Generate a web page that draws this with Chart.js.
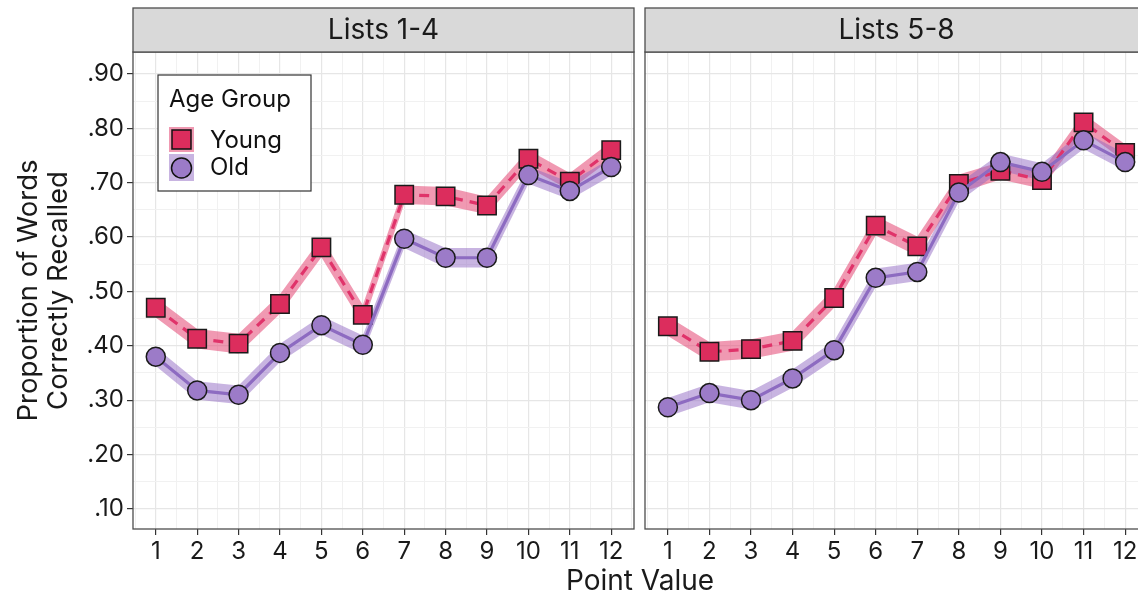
<!DOCTYPE html>
<html>
<head>
<meta charset="utf-8">
<script src="https://cdn.jsdelivr.net/npm/chart.js@4.4.1/dist/chart.umd.min.js"></script>
<style>
  html, body { margin: 0; padding: 0; background: #fff; overflow: hidden; }
  #wrap { position: relative; width: 1138px; height: 595px; overflow: hidden; background: #fff; }
  #left { position: absolute; left: 0; top: 0; width: 640px; height: 595px; }
  #right { position: absolute; left: 640px; top: 0; width: 508px; height: 595px; }
  #xtitle {
    position: absolute; left: 490px; width: 300px; top: 564px; text-align: center;
    font-family: Inter, "Liberation Sans", sans-serif; font-size: 28px; color: #1a1a1a; line-height: 32px;
  }
</style>
</head>
<body>
<div id="wrap">
  <div id="left"><canvas id="c1" width="640" height="595"></canvas></div>
  <div id="right"><canvas id="c2" width="508" height="595"></canvas></div>
  <div id="xtitle">Point Value</div>
</div>
<script>
// Point values on the x axis
const pointValues = [1, 2, 3, 4, 5, 6, 7, 8, 9, 10, 11, 12];

// Mean proportion recalled, Lists 1-4
const young14 = [0.470, 0.413, 0.404, 0.477, 0.581, 0.457, 0.678, 0.675, 0.658, 0.744, 0.702, 0.760];
const old14   = [0.380, 0.318, 0.310, 0.387, 0.438, 0.402, 0.597, 0.562, 0.562, 0.714, 0.685, 0.729];
// Ribbon half-widths, Lists 1-4
const youngBand14 = [0.018, 0.018, 0.018, 0.018, 0.018, 0.018, 0.017, 0.017, 0.016, 0.016, 0.016, 0.016];
const oldBand14   = [0.017, 0.017, 0.017, 0.017, 0.017, 0.017, 0.017, 0.018, 0.018, 0.016, 0.016, 0.016];

// Mean proportion recalled, Lists 5-8
const young58 = [0.436, 0.389, 0.394, 0.409, 0.488, 0.621, 0.583, 0.698, 0.722, 0.705, 0.811, 0.755];
const old58   = [0.287, 0.313, 0.300, 0.340, 0.392, 0.525, 0.536, 0.682, 0.738, 0.720, 0.778, 0.738];
// Ribbon half-widths, Lists 5-8
const youngBand58 = [0.018, 0.018, 0.018, 0.018, 0.018, 0.018, 0.018, 0.017, 0.016, 0.016, 0.016, 0.016];
const oldBand58   = [0.017, 0.017, 0.017, 0.017, 0.017, 0.017, 0.017, 0.017, 0.016, 0.016, 0.016, 0.016];

const panelTitles = ['Lists 1-4', 'Lists 5-8'];
const groupNames = ['Young', 'Old'];
const yTickValues = [0.10, 0.20, 0.30, 0.40, 0.50, 0.60, 0.70, 0.80, 0.90];

const FONT = 'Inter, "Liberation Sans", sans-serif';
const YOUNG = '#dc2d5d';
const YOUNG_LINE = '#e0336a';
const YOUNG_BAND = 'rgba(228, 70, 115, 0.55)';
const OLD = '#9c7bc8';
const OLD_LINE = '#8d6bc1';
const OLD_BAND = 'rgba(145, 105, 195, 0.50)';

function pts(vals) { return pointValues.map((x, i) => ({ x: x, y: vals[i] })); }
function shifted(vals, half, sign) { return pointValues.map((x, i) => ({ x: x, y: vals[i] + sign * half[i] })); }

function isMajorX(v) { return Math.abs(v - Math.round(v)) < 1e-6; }
function isMajorY(v) { return Math.abs(v * 10 - Math.round(v * 10)) < 1e-6; }

// Panel border + facet strip
const panelFrame = {
  id: 'panelFrame',
  afterDraw(chart, args, opts) {
    const { ctx, chartArea: a } = chart;
    ctx.save();
    ctx.strokeStyle = '#4d4d4d';
    ctx.lineWidth = 1.3;
    ctx.strokeRect(a.left, a.top, a.right - a.left, a.bottom - a.top);
    // strip
    ctx.fillStyle = '#d9d9d9';
    ctx.fillRect(a.left, 8, a.right - a.left, a.top - 8);
    ctx.strokeRect(a.left, 8, a.right - a.left, a.top - 8);
    ctx.fillStyle = '#1a1a1a';
    ctx.font = '28px ' + FONT;
    ctx.textAlign = 'center';
    ctx.textBaseline = 'middle';
    ctx.fillText(opts.title, (a.left + a.right) / 2, (8 + a.top) / 2 + 1);
    ctx.restore();
  }
};

// Legend box inside the first panel
const ageLegend = {
  id: 'ageLegend',
  afterDraw(chart, args, opts) {
    if (!opts.show) return;
    const ctx = chart.ctx;
    ctx.save();
    ctx.fillStyle = '#fff';
    ctx.fillRect(158, 75, 153, 116);
    ctx.strokeStyle = '#333';
    ctx.lineWidth = 1.2;
    ctx.strokeRect(158, 75, 153, 116);
    ctx.fillStyle = '#111';
    ctx.font = '24px ' + FONT;
    ctx.textAlign = 'left';
    ctx.textBaseline = 'middle';
    ctx.fillText('Age Group', 169, 100);
    // Young key
    ctx.fillStyle = YOUNG_BAND;
    ctx.fillRect(169, 127, 25, 25);
    ctx.fillStyle = YOUNG;
    ctx.fillRect(172, 130, 19, 19);
    ctx.strokeStyle = '#111';
    ctx.lineWidth = 1.5;
    ctx.strokeRect(172, 130, 19, 19);
    // Old key
    ctx.fillStyle = OLD_BAND;
    ctx.fillRect(169, 154, 25, 27);
    ctx.fillStyle = OLD;
    ctx.beginPath();
    ctx.arc(181.5, 168, 10, 0, Math.PI * 2);
    ctx.fill();
    ctx.stroke();
    ctx.fillStyle = '#111';
    ctx.fillText(groupNames[0], 210, 141);
    ctx.fillText(groupNames[1], 210, 168);
    ctx.restore();
  }
};

function makeChart(canvasId, panelIdx, young, old, youngBand, oldBand) {
  const isLeft = panelIdx === 0;
  return new Chart(document.getElementById(canvasId), {
    type: 'line',
    data: {
      datasets: [
        { data: shifted(young, youngBand, -1), borderWidth: 0, pointRadius: 0, fill: false, order: 6 },
        { data: shifted(young, youngBand, 1), borderWidth: 0, pointRadius: 0, fill: '-1', backgroundColor: YOUNG_BAND, order: 5 },
        { data: shifted(old, oldBand, -1), borderWidth: 0, pointRadius: 0, fill: false, order: 4 },
        { data: shifted(old, oldBand, 1), borderWidth: 0, pointRadius: 0, fill: '-1', backgroundColor: OLD_BAND, order: 3 },
        {
          label: groupNames[0], data: pts(young), order: 2,
          borderColor: YOUNG_LINE, borderWidth: 3.2, borderDash: [10, 7], fill: false,
          pointStyle: 'rect', pointRadius: 13, pointBackgroundColor: YOUNG,
          pointBorderColor: '#1a1a1a', pointBorderWidth: 1.5
        },
        {
          label: groupNames[1], data: pts(old), order: 1,
          borderColor: OLD_LINE, borderWidth: 3.2, fill: false,
          pointStyle: 'circle', pointRadius: 9.5, pointBackgroundColor: OLD,
          pointBorderColor: '#1a1a1a', pointBorderWidth: 1.5
        }
      ]
    },
    options: {
      responsive: false,
      animation: false,
      events: [],
      layout: { autoPadding: false, padding: { top: 52, right: isLeft ? 6 : 0, left: isLeft ? 0 : 5, bottom: 0 } },
      plugins: {
        legend: { display: false },
        tooltip: { enabled: false },
        panelFrame: { title: panelTitles[panelIdx] },
        ageLegend: { show: isLeft }
      },
      scales: {
        x: {
          type: 'linear', min: 0.45, max: 12.55,
          afterBuildTicks(scale) {
            const t = [];
            for (let v = 0.5; v <= 12.5 + 1e-9; v += 0.5) t.push({ value: v });
            scale.ticks = t;
          },
          afterFit(scale) {
            scale.height = 66;
            scale.paddingLeft = 0;
            scale.paddingRight = 0;
          },
          border: { display: false },
          grid: {
            color: c => isMajorX(c.tick.value) ? '#e6e6e6' : '#f1f1f1',
            lineWidth: c => isMajorX(c.tick.value) ? 1.2 : 1,
            tickColor: c => isMajorX(c.tick.value) ? '#333' : 'rgba(0,0,0,0)',
            tickLength: 6, tickWidth: 1.2
          },
          ticks: {
            autoSkip: false, maxRotation: 0, padding: 2,
            color: '#1a1a1a', font: { family: FONT, size: 24 },
            callback: v => isMajorX(v) ? String(Math.round(v)) : ''
          }
        },
        y: {
          min: 0.063, max: 0.9405,
          afterBuildTicks(scale) {
            const t = [];
            for (let k = 2; k <= 18; k++) t.push({ value: k * 0.05 });
            scale.ticks = t;
          },
          afterFit(scale) {
            scale.width = isLeft ? 133 : 0;
            scale.paddingTop = 0;
            scale.paddingBottom = 0;
          },
          border: { display: false },
          grid: {
            color: c => isMajorY(c.tick.value) ? '#e6e6e6' : '#f1f1f1',
            lineWidth: c => isMajorY(c.tick.value) ? 1.2 : 1,
            tickColor: c => (isLeft && isMajorY(c.tick.value)) ? '#333' : 'rgba(0,0,0,0)',
            drawTicks: isLeft, tickLength: 6, tickWidth: 1.2
          },
          ticks: {
            display: isLeft, autoSkip: false, padding: 3,
            color: '#1a1a1a', font: { family: FONT, size: 24 },
            callback: v => {
              if (!isMajorY(v)) return '';
              const m = yTickValues.find(y => Math.abs(y - v) < 1e-6);
              return m === undefined ? '' : m.toFixed(2).replace(/^0/, '');
            }
          },
          title: {
            display: isLeft,
            text: ['Proportion of Words', 'Correctly Recalled'],
            color: '#1a1a1a', font: { family: FONT, size: 27.5, lineHeight: 1.12 },
            padding: { top: 13, bottom: 0 }
          }
        }
      }
    },
    plugins: [panelFrame, ageLegend]
  });
}

makeChart('c1', 0, young14, old14, youngBand14, oldBand14);
makeChart('c2', 1, young58, old58, youngBand58, oldBand58);
</script>
</body>
</html>
